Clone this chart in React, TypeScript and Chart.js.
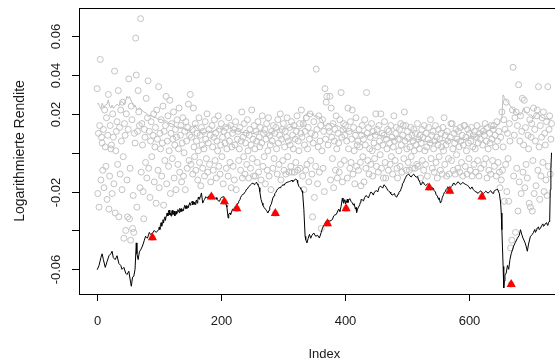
import React, { useEffect, useRef } from "react";
import { Chart, registerables } from "chart.js";

Chart.register(...registerables);

// Log returns, in per-mille (value × 0.001), index 1..733
const logReturnsPermille: number[] = [
  // 1-70
  33, -21, 10, -28, 14, 48, -14, 8, 5, -9,
  12, -18, 22, 3, -7, 18, -24, 9, 30, -29,
  -12, 14, 2, 4, -21, 20, 8, -16, 42, -31,
  1, 11, 16, -6, 32, -33, 13, -11, 22, 6,
  -19, 26, -2, -44, 15, 9, -40, 20, -14, -33,
  12, 38, -34, -8, -45, 24, 17, -39, -22, -41,
  10, 5, 59, 40, -28, 11, 32, 21, 14, -18,
  // 71-150
  69, -10, 15, 4, -20, -34, 12, 8, -5, 28,
  -13, 18, 37, -8, 11, -23, 6, 16, -2, -43.7,
  9, 20, -15, 3, 13, -26, 22, 7, -9, 34,
  -18, 10, 2, 17, -12, 5, 24, -27, 11, -4,
  14, 29, -16, 6, 19, -7, 1, 27, -21, 10,
  15, -3, 7, 21, -13, 4, 12, -19, 8, 17,
  -6, 2, 23, -10, 9, 14, -15, 5, 18, -12,
  0, 11, -19, 16, 6, -8, 13, 25, -4, 9,
  // 151-330
  30, -6, 8, 12, -11, 23, 3, -2, 15, -9,
  6, 10, -14, 1, 18, -5, 9, -17, 13, 4,
  -8, 11, 2, -12, 16, 7, -3, 20, -10, 5,
  12, -6, 9, -15, -22.7, 14, 3, -9, 8, 17,
  -4, 10, -13, 6, 1, 19, -7, 12, -11, 4,
  15, -2, 8, -16, 11, -25.2, 5, 13, -8, 2,
  9, -12, 18, 6, -5, 14, -18, 3, 10, -7,
  12, -14, 4, 16, -19, -28.7, 7, 11, -4, 2,
  13, -9, 6, 21, -13, 8, -2, 15, -11, 5,
  10, -6, 17, 1, -13, 9, 12, -8, 4, 22,
  -3, 7, -12, 14, 2, -12, 11, 6, -5, 16,
  -10, 8, 3, 13, -14, 5, 19, -7, 10, -2,
  12, -16, 7, 15, -9, 1, 18, -12, 9, 4,
  -19, 11, 6, -8, 14, -3, 10, -31.2, 13, 2,
  -11, 17, 5, -6, 9, 20, -14, 7, 12, -4,
  15, -9, 3, 11, -11, 8, 18, -2, 6, -10,
  13, 4, -7, 16, -10, 9, 2, 14, -10, 7,
  -5, 11, 19, -9, 6, 1, 15, -8, 10, 22,
  // 331-420
  8, -12, 15, -19, 4, 11, -9, 18, -6, 2,
  13, -15, 7, 20, -4, 10, -11, -33, 5, 16,
  -23, 9, -7, 43, 12, -16, 3, 19, -10, 6,
  14, -39, 1, 17, -8, 11, -20, 33, 7, 26,
  29, -36.5, 4, 13, 11, 29, -14, 23, 8, -3,
  15, -18, 6, 12, -9, 19, 2, -13, 10, 5,
  -10, 17, -6, 31, 8, -15, 12, 15, -4, 9,
  14, -28.7, 6, -13, 23, 2, 11, -8, 16, -5,
  7, 22, -11, 13, 1, -16, 9, 18, -7, 4,
  // 421-650
  6, -9, 12, 3, -5, -17, 9, 14, -2, 7,
  -15, 17, 4, -8, 31, 10, -4, 13, -11, 2,
  8, -6, 15, 1, -12, 11, 5, -3, 9, 20,
  -7, 12, 3, -10, 14, 6, -1, 20, -8, 10,
  4, -13, 9, 16, -5, -13, 7, 2, 12, -9,
  11, 5, -6, 14, -2, 8, -11, 3, 19, 6,
  -4, 10, 13, -8, -13, 7, 1, 12, -7, 15,
  4, -10, 9, 14, -3, 21, 6, 14, -9, 2,
  11, -5, 8, -9, 3, 13, -2, 9, -8, 6,
  12, 1, -8, 10, 4, -6, 15, -7, 7, 2,
  9, -13, 5, 12, -4, 8, -9, 14, 1, -6,
  10, 3, -12, 7, 13, -18, 5, 17, -3, 9,
  -8, 11, 2, -10, 6, 14, -5, 8, -13, 4,
  12, -2, 7, -9, 10, 3, -11, 13, 1, 18,
  -6, 9, 4, -12, 11, 6, -3, -11, -19.7, 8,
  15, -4, 15, 2, -9, 10, 5, -11, 12, -1,
  7, -8, 11, 3, -10, 13, 6, -5, 9, -12,
  4, 14, 14, -7, 8, 1, -11, 12, 5, -3,
  10, -9, 6, 13, -12, 3, 9, -6, 11, 2,
  -10, 8, 14, -4, 5, -12, 10, 7, -8, 12,
  -22.7, 4, 11, -6, 9, 15, -3, 6, -13, 13,
  2, -9, 10, 5, -11, 14, 7, -4, 12, 14,
  -7, 9, 3, -12, 16, 6, -5, 11, -10, -18,
  // 651-733
  8, -14, 21, -9, 3, 17, -25, 12, -6, 26,
  -20, 10, -3, -25, 15, 6, -49, -67.7, -45, 22,
  44, -12, 9, 18, -41, 21, -8, 14, -30, 35,
  -15, 6, 19, -21, 11, 28, -10, 4, 27, -18,
  13, -6, 22, -13, 9, 2, -26, 17, -28, 8,
  15, -30, -4, 23, -21, 12, 6, -17, 19, 22,
  -9, 34, 3, -24, 14, -12, 8, 18, -5, 21,
  -20, 10, 4, -14, 16, -22, 34, -7, 12, 19,
  -11, 7, 15,
];

// Upper band (grey line): [index, per-mille]
const upperBand: [number, number][] = [
  [1, 25], [3, 25.5], [5, 23.8], [7, 22.5], [9, 25.5], [11, 24], [12, 23], [14, 24.5], [17, 25], [19, 27.2],
  [21, 24], [23, 23], [25, 24.5], [27, 23], [30, 23.8], [33, 25], [36, 24], [38, 26], [41, 26.4], [44, 25],
  [47, 27], [49, 29], [51, 28], [53, 29], [55, 27.2], [57, 26], [60, 23.8], [62, 24.5], [65, 22.1], [68, 23],
  [70, 23], [73, 22], [76, 21], [80, 20.5], [84, 18.7], [88, 19.5], [92, 18.2], [96, 18], [100, 17], [104, 17.3],
  [108, 16.2], [112, 16.5], [116, 15.3], [120, 15], [124, 14.5], [128, 13], [132, 12.7], [136, 13.3], [140, 12.5], [144, 11.5],
  [148, 12], [150, 11], [155, 12.5], [159, 14.4], [163, 12], [167, 11], [171, 10.1], [175, 10.5], [180, 11.2], [185, 10.6],
  [190, 11.5], [194, 12.1], [198, 12.7], [202, 12], [206, 13.2], [210, 13.8], [214, 14.4], [217, 12.5], [220, 11.8], [224, 11.5],
  [228, 11], [232, 10.7], [236, 10.2], [240, 10.5], [244, 10.1], [248, 10.6], [252, 9.8], [256, 10.4], [260, 10.8], [265, 11.2],
  [268, 10.5], [272, 9.2], [276, 8.4], [280, 9.5], [284, 11], [288, 11.5], [292, 11.8], [296, 12.3], [300, 12], [304, 12.8],
  [308, 12.5], [313, 13.5], [318, 13], [322, 12.5], [326, 12.2], [330, 12.8], [333, 13.5], [334, 18.7], [336, 19.5], [338, 19],
  [340, 20.5], [343, 20.4], [346, 19.8], [349, 20], [351, 18.7], [354, 19], [357, 18.5], [362, 17.8], [365, 16], [367, 13.5],
  [370, 14.5], [373, 15.3], [376, 14.7], [380, 15], [383, 14.4], [387, 14], [391, 13.5], [394, 12.8], [397, 12.2], [399, 11],
  [402, 11.3], [405, 11], [409, 11.5], [413, 10.8], [417, 10.5], [420, 10.2], [424, 10.5], [428, 10], [432, 9.6], [437, 8.4],
  [441, 9], [444, 9.6], [447, 10.1], [451, 9.4], [455, 9], [459, 8.8], [463, 8.6], [467, 8.2], [471, 7.8], [475, 7.2],
  [479, 6.7], [484, 7.5], [487, 8.4], [490, 8.6], [494, 7.4], [498, 6.6], [501, 5.8], [505, 6.2], [509, 6.8], [513, 6.4],
  [517, 6.9], [522, 6.7], [526, 6], [530, 5.8], [535, 5.4], [540, 5.2], [544, 5], [548, 5.6], [552, 5.9], [556, 6.4],
  [560, 6.1], [565, 5.9], [569, 6.5], [573, 6.8], [577, 6.3], [581, 6.6], [585, 7.2], [589, 6.8], [592, 6.7], [597, 7.4],
  [601, 7.9], [605, 8.4], [609, 8.1], [613, 8.6], [617, 9.3], [621, 9.8], [625, 10.4], [629, 11], [633, 11.6], [637, 12.4],
  [641, 13], [645, 13.5], [648, 14.5], [651, 16.5], [653, 17.8], [654, 24], [655, 29.8], [657, 28.5], [659, 27.2], [662, 26],
  [665, 25], [668, 23.5], [672, 22.1], [675, 21], [678, 20.2], [681, 19.8], [683, 19.5], [686, 21], [688, 23], [690, 21.5],
  [693, 20.4], [696, 19.5], [699, 19.5], [702, 19], [704, 17.5], [707, 19], [710, 20.4], [713, 19.5], [716, 18.5], [720, 17.8],
  [724, 17.5], [728, 17.2], [731, 17], [733, 16.8],
];

// Lower band / VaR (black line): [index, per-mille]
const lowerBand: [number, number][] = [
  [1, -60.2], [4, -58], [7, -54], [9, -52], [11, -55], [14, -59], [17, -56], [20, -53], [23, -52], [25, -50.7],
  [27, -54], [30, -55], [33, -53], [36, -57], [39, -58], [41, -60], [44, -59], [47, -62], [49, -62.7], [52, -61],
  [55, -67], [56, -68.7], [58, -64], [60, -63.6], [62, -60], [64, -46.4], [65, -52], [67, -55], [69, -51], [71, -50],
  [74, -48], [77, -45], [79, -43], [82, -44], [85, -41], [87, -42], [90, -41.5], [93, -40], [96, -41], [100, -39.6],
  [101, -38.2], [102, -39.5], [103, -37], [104, -36], [105, -37.8], [106, -36], [107, -34.5], [108, -36.2], [109, -34], [110, -33],
  [111, -34.8], [112, -32.7], [113, -31.5], [114, -31], [115, -32.5], [116, -30], [117, -29.5], [118, -32], [119, -31], [120, -32.6],
  [121, -30.5], [122, -29.6], [123, -31.8], [124, -31.5], [125, -30], [126, -32.5], [127, -31.9], [128, -30.2], [129, -31.6], [130, -30.5],
  [131, -29.2], [132, -30], [133, -30.8], [134, -28.6], [135, -29], [136, -30.3], [137, -28.7], [138, -30], [139, -29.2], [140, -29.8],
  [141, -28], [142, -27], [143, -27.6], [144, -28.8], [145, -27.2], [146, -28.5], [147, -27.3], [148, -28.2], [149, -26.5], [150, -25.7],
  [151, -27], [152, -26], [153, -25.5], [154, -25], [155, -26.8], [156, -25.2], [157, -26.5], [158, -25.4], [159, -26.6], [160, -25],
  [161, -24.3], [162, -25.9], [163, -24.8], [164, -22.8], [165, -23.5], [166, -24], [167, -22.5], [168, -21.8], [169, -20.7], [171, -25.9],
  [173, -24.5], [174, -24], [176, -22.6], [177, -23], [179, -23.3], [180, -22.5], [182, -22.5], [184, -21.8], [185, -21], [187, -22.3],
  [188, -23], [190, -23.8], [191, -23.5], [193, -23.1], [194, -24], [196, -24.7], [198, -25], [200, -23.5], [201, -23], [203, -22.8],
  [205, -22.6], [206, -23.5], [207, -24.5], [209, -27], [210, -28], [212, -33.6], [213, -31.5], [215, -31], [216, -31.8], [218, -30],
  [219, -29], [220, -29.3], [222, -28.6], [223, -28], [225, -27.8], [226, -27], [228, -25.8], [229, -25], [231, -24.2], [232, -23],
  [234, -22], [235, -21.5], [237, -21.3], [238, -20.7], [240, -20], [241, -19], [243, -18.6], [245, -17.5], [247, -17], [248, -16.5],
  [250, -15.9], [252, -15.6], [254, -16.4], [255, -16], [257, -15.3], [258, -15.5], [259, -16], [260, -16.5], [262, -18], [263, -20],
  [265, -24], [267, -26], [268, -27], [270, -28.2], [272, -29], [274, -29.8], [276, -31], [278, -29.6], [279, -28], [281, -26.7],
  [282, -25.9], [284, -23.3], [286, -22.2], [287, -21], [289, -20.4], [290, -19.5], [292, -18.6], [294, -18], [296, -18], [297, -17.5],
  [299, -16.8], [300, -16.5], [302, -16.6], [303, -16], [305, -15.6], [307, -15.2], [309, -15], [311, -14.8], [313, -14.5], [315, -14.2],
  [316, -14.8], [318, -14.5], [319, -13.9], [321, -13.5], [323, -14.2], [324, -15.5], [326, -17.3], [328, -18], [329, -18.5], [331, -19.6],
  [332, -20.7], [334, -29.3], [336, -43], [337, -44.7], [339, -46.4], [341, -44], [343, -42], [345, -44], [347, -42.5], [350, -41.3],
  [353, -43], [356, -42.5], [359, -43.9], [362, -41], [364, -38.7], [367, -37], [370, -35.3], [373, -34.8], [376, -35.2], [380, -34.4],
  [382, -32.5], [384, -32], [386, -31.8], [388, -30.5], [390, -29], [391, -29.5], [392, -30.2], [394, -27.6], [396, -23.3], [397, -25],
  [398, -26], [399, -24.2], [400, -25], [401, -26.4], [402, -24.8], [403, -25.5], [404, -23.8], [405, -25.6], [406, -24.5], [408, -23.6],
  [410, -25], [412, -25.8], [414, -27], [415, -26.2], [417, -29], [418, -28.2], [419, -30.7], [420, -29.4], [422, -28], [424, -26.8],
  [425, -25.5], [426, -24.1], [428, -24.2], [430, -24.8], [432, -23], [434, -22], [436, -22.5], [438, -23.3], [440, -21.5], [442, -20.2],
  [444, -20.7], [446, -21.8], [447, -20.7], [449, -19.8], [451, -19.5], [453, -20.2], [455, -18], [457, -17.2], [459, -17.5], [461, -18.2],
  [463, -16.5], [465, -17], [467, -18], [469, -19.2], [471, -19.9], [473, -20.3], [474, -21], [476, -21.8], [478, -21.5], [480, -21],
  [481, -22], [483, -22.8], [484, -22.5], [486, -21.2], [487, -20.5], [489, -19.6], [490, -19], [492, -17.5], [493, -16], [495, -15],
  [496, -14], [498, -12.8], [499, -12], [501, -11.3], [503, -11], [505, -12], [507, -12.5], [509, -11.5], [511, -11], [513, -12],
  [515, -12.6], [517, -12.2], [519, -14], [521, -15.2], [522, -16.5], [524, -16.2], [525, -15], [527, -15.4], [528, -16.3], [530, -16.8],
  [532, -16.4], [533, -16], [535, -16.2], [536, -17], [538, -17.8], [540, -18.5], [542, -18], [544, -19.5], [546, -20.2], [547, -21.5],
  [549, -22.3], [551, -24], [552, -23.2], [554, -25.9], [556, -24.6], [557, -23], [559, -21.6], [560, -20.5], [562, -20], [563, -19],
  [565, -18.2], [566, -17.5], [568, -18.8], [570, -18], [571, -17.5], [573, -16.8], [574, -16], [576, -15.6], [578, -16.6], [580, -16],
  [582, -15], [584, -15.3], [586, -16.3], [588, -16], [590, -15.2], [592, -15.8], [594, -16.2], [596, -16.5], [598, -16.9], [600, -17.5],
  [602, -18.6], [603, -18.2], [605, -17.6], [607, -19], [609, -19.5], [610, -20], [612, -20.1], [613, -20.7], [615, -20.8], [617, -20],
  [619, -19.6], [621, -20.5], [623, -21], [625, -20.5], [627, -19.8], [629, -20.3], [631, -20.8], [633, -20], [635, -19.5], [637, -20.6],
  [639, -20.9], [640, -19.9], [642, -19.4], [644, -19], [646, -18.8], [647, -19.6], [649, -21], [651, -25.9], [652, -31], [653, -39.6],
  [654, -49], [655, -58.5], [656, -69.6], [657, -66], [658, -63], [660, -61.9], [662, -58], [664, -60], [666, -55], [668, -52],
  [670, -50], [672, -48], [675, -46], [678, -44], [681, -42.5], [683, -39.6], [685, -42], [687, -43.9], [690, -46], [692, -48],
  [694, -50.7], [696, -47], [699, -43], [701, -42.5], [702, -42], [704, -41], [705, -40], [706, -39.5], [707, -41], [709, -39.8],
  [710, -38.7], [712, -38.2], [713, -39.5], [715, -39], [717, -37.5], [718, -37], [719, -36.6], [720, -37.9], [722, -37.2], [723, -36.5],
  [725, -36], [726, -37], [727, -37.3], [728, -36], [729, -35.4], [730, -35.5], [731, -19], [732, -8], [733, 0],
];

// Indices where the return falls below the lower band
const violationIdx: number[] = [90, 185, 206, 226, 288, 372, 402, 536, 569, 621, 668];

const yTicks: number[] = [-0.06, -0.04, -0.02, 0, 0.02, 0.04, 0.06];
const yTickLabels: string[] = ["-0.06", "", "-0.02", "", "0.02", "0.04", "0.06"];
const xTicks: number[] = [0, 200, 400, 600];
const xTickLabels: string[] = ["0", "200", "400", "600"];
const xTitle = "Index";
const yTitle = "Logarithmierte Rendite";

const X_MIN = -28.28;
const X_MAX = 762.28;
const Y_MIN = -0.0727;
const Y_MAX = 0.0745;
const PM = 0.001;

const FONT = '"Liberation Sans", Arial, Helvetica, sans-serif';

const rAxesPlugin = {
  id: "rAxes",
  afterDraw(chart: any) {
    const { ctx, chartArea: a, scales } = chart;
    const xs = scales.x;
    const ys = scales.y;
    ctx.save();
    ctx.strokeStyle = "#000";
    ctx.lineWidth = 1;
    ctx.strokeRect(a.left + 0.5, a.top + 0.5, a.right - a.left, a.bottom - a.top);
    ctx.fillStyle = "#1a1a1a";
    ctx.font = `13px ${FONT}`;
    yTicks.forEach((v, i) => {
      const py = Math.round(ys.getPixelForValue(v)) + 0.5;
      ctx.beginPath();
      ctx.moveTo(a.left - 7, py);
      ctx.lineTo(a.left + 0.5, py);
      ctx.stroke();
      const lab = yTickLabels[i];
      if (lab) {
        ctx.save();
        ctx.translate(60, py);
        ctx.rotate(-Math.PI / 2);
        ctx.textAlign = "center";
        ctx.textBaseline = "alphabetic";
        ctx.fillText(lab, 0, 0);
        ctx.restore();
      }
    });
    xTicks.forEach((v, i) => {
      const px = Math.round(xs.getPixelForValue(v)) + 0.5;
      ctx.beginPath();
      ctx.moveTo(px, a.bottom);
      ctx.lineTo(px, a.bottom + 7);
      ctx.stroke();
      ctx.textAlign = "center";
      ctx.textBaseline = "alphabetic";
      ctx.fillText(xTickLabels[i], px, 325);
    });
    ctx.textAlign = "center";
    ctx.fillText(xTitle, (a.left + a.right) / 2, 358);
    ctx.save();
    ctx.font = `14px ${FONT}`;
    ctx.translate(24, (a.top + a.bottom) / 2);
    ctx.rotate(-Math.PI / 2);
    ctx.textAlign = "center";
    ctx.fillText(yTitle, 0, 0);
    ctx.restore();
    ctx.restore();
  },
};

export default function App() {
  const ref = useRef<HTMLCanvasElement | null>(null);

  useEffect(() => {
    if (!ref.current) return;
    const returnsData = logReturnsPermille.map((v, i) => ({ x: i + 1, y: v * PM }));
    const upperData = [...upperBand].sort((p, q) => p[0] - q[0]).map(([x, v]) => ({ x, y: v * PM }));
    const lowerData = [...lowerBand].sort((p, q) => p[0] - q[0]).map(([x, v]) => ({ x, y: v * PM }));
    const violData = violationIdx.map((ix) => ({ x: ix, y: logReturnsPermille[ix - 1] * PM }));

    const chart = new Chart(ref.current, {
      type: "scatter",
      data: {
        datasets: [
          {
            label: "Verletzungen",
            data: violData,
            pointStyle: "triangle",
            pointRadius: 5.3,
            backgroundColor: "#ff0000",
            borderColor: "#ff0000",
            borderWidth: 0,
            order: 0,
          },
          {
            label: "Untere Grenze",
            data: lowerData,
            showLine: true,
            pointRadius: 0,
            borderColor: "#000000",
            borderWidth: 1,
            tension: 0,
            order: 1,
          },
          {
            label: "Obere Grenze",
            data: upperData,
            showLine: true,
            pointRadius: 0,
            borderColor: "#bdbdbd",
            borderWidth: 1,
            tension: 0,
            order: 2,
          },
          {
            label: "Rendite",
            data: returnsData,
            pointStyle: "circle",
            pointRadius: 3,
            backgroundColor: "rgba(0,0,0,0)",
            borderColor: "#c2c2c2",
            borderWidth: 1,
            order: 3,
          },
        ],
      },
      options: {
        animation: false,
        responsive: false,
        events: [],
        layout: { padding: { left: 79, top: 8, right: 3, bottom: 66 } },
        plugins: { legend: { display: false }, tooltip: { enabled: false } },
        scales: {
          x: { type: "linear", min: X_MIN, max: X_MAX, display: false },
          y: { type: "linear", min: Y_MIN, max: Y_MAX, display: false },
        },
      },
      plugins: [rAxesPlugin],
    });
    return () => chart.destroy();
  }, []);

  return (
    <div style={{ position: "fixed", left: 0, top: 0, width: 555, height: 360, overflow: "hidden", background: "#fff" }}>
      <canvas ref={ref} width={575} height={360} style={{ width: 575, height: 360, display: "block" }} />
    </div>
  );
}
